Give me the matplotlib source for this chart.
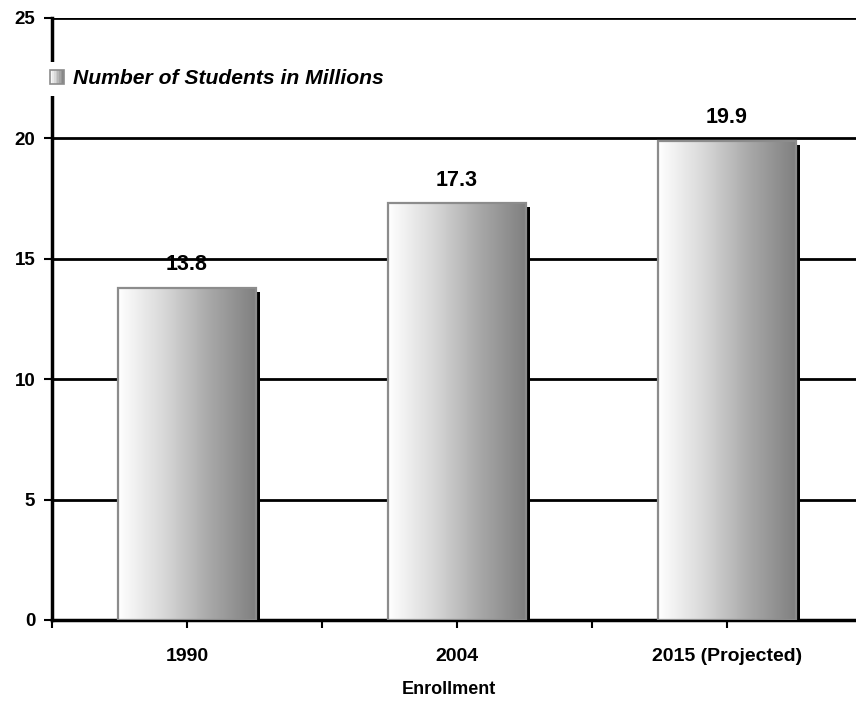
import numpy as np
import matplotlib
matplotlib.use("Agg")
import matplotlib.pyplot as plt
from matplotlib.patches import Rectangle
from matplotlib.legend_handler import HandlerBase
from matplotlib.transforms import ScaledTranslation

plt.rcParams['font.family'] = ['Liberation Sans', 'DejaVu Sans']
plt.rcParams['font.weight'] = 'bold'

# enrollment, number of students in millions
categories = ['1990', '2004', '2015 (Projected)']
students = [13.8, 17.3, 19.9]
y_ticks = [0, 5, 10, 15, 20, 25]
series_name = 'Number of Students in Millions'
axis_title = 'Enrollment'

W, H = 856, 702
fig = plt.figure(figsize=(W / 100, H / 100), dpi=100)
# plot area runs a bit past the right edge of the figure
ax = fig.add_axes([52 / W, (H - 620) / H, (862 - 52) / W, (620 - 18) / H])

grad = np.linspace(0, 1, 256).reshape(1, -1)
cmap = matplotlib.colors.LinearSegmentedColormap.from_list(
    'bargrad', ['#ffffff', '#d8d8d8', '#a8a8a8', '#808080'])

x = np.arange(len(categories))
width = 0.51

# black drop shadow, shifted right/down a few pixels
shadow_off = ax.transData + ScaledTranslation(4 / 100, -4 / 100, fig.dpi_scale_trans)
for xi, v in zip(x, students):
    ax.add_patch(Rectangle((xi - width / 2, 0), width, v, facecolor='black',
                           edgecolor='none', transform=shadow_off, zorder=2))

# gradient fill + grey outline
for xi, v in zip(x, students):
    ax.imshow(grad, cmap=cmap, aspect='auto', interpolation='bicubic',
              extent=[xi - width / 2, xi + width / 2, 0, v], zorder=3)
    ax.add_patch(Rectangle((xi - width / 2, 0), width, v, facecolor='none',
                           edgecolor='#8c8c8c', linewidth=1.6, zorder=4))
    ax.annotate(f'{v:.1f}', (xi, v), xytext=(0, 9), textcoords='offset points',
                ha='center', va='bottom', fontsize=15.5, fontweight='bold')

ax.set_xlim(-0.5, len(categories) - 0.5)
ax.set_ylim(0, 25)

ax.set_yticks(y_ticks)
ax.set_yticklabels([str(t) for t in y_ticks], fontsize=13.5, fontweight='bold')
ax.yaxis.grid(True, color='black', linewidth=2)
ax.set_axisbelow(True)

ax.set_xticks(x)
ax.set_xticklabels(categories, fontsize=14, fontweight='bold')
ax.set_xticks(np.arange(len(categories) + 1) - 0.5, minor=True)
ax.tick_params(axis='x', which='both', length=6, width=1.5, direction='out')
ax.tick_params(axis='x', which='major', pad=14)
ax.tick_params(axis='y', length=6, width=1.5, pad=6)

for s in ['top', 'right']:
    ax.spines[s].set_visible(False)
ax.spines['left'].set_linewidth(2.5)
ax.spines['bottom'].set_linewidth(2.5)

fig.text(449 / W, 1 - 690 / H, axis_title, ha='center', va='center',
         fontsize=13, fontweight='bold')


class GradientSquare(HandlerBase):
    # legend key drawn as a few grey strips to mimic the bar shading
    def create_artists(self, legend, orig_handle, xdescent, ydescent,
                       width, height, fontsize, trans):
        n = 8
        arts = []
        for i in range(n):
            c = cmap((i + 0.5) / n)
            arts.append(Rectangle((-xdescent + i * width / n, -ydescent), width / n, height,
                                  facecolor=c, edgecolor='none', transform=trans))
        arts.append(Rectangle((-xdescent, -ydescent), width, height, facecolor='none',
                              edgecolor='#8c8c8c', linewidth=1.2, transform=trans))
        return arts


proxy = Rectangle((0, 0), 1, 1)
leg = ax.legend([proxy], [series_name], handler_map={Rectangle: GradientSquare()},
                loc='center left', bbox_to_anchor=(43 / W, 1 - 79 / H),
                bbox_transform=fig.transFigure, frameon=True, framealpha=1,
                facecolor='white', edgecolor='none', fancybox=False,
                borderpad=0.35, borderaxespad=0, handlelength=0.65, handleheight=0.65,
                handletextpad=0.4,
                prop={'size': 15.2, 'weight': 'bold', 'style': 'italic'})

fig.savefig('out.png', dpi=100)
